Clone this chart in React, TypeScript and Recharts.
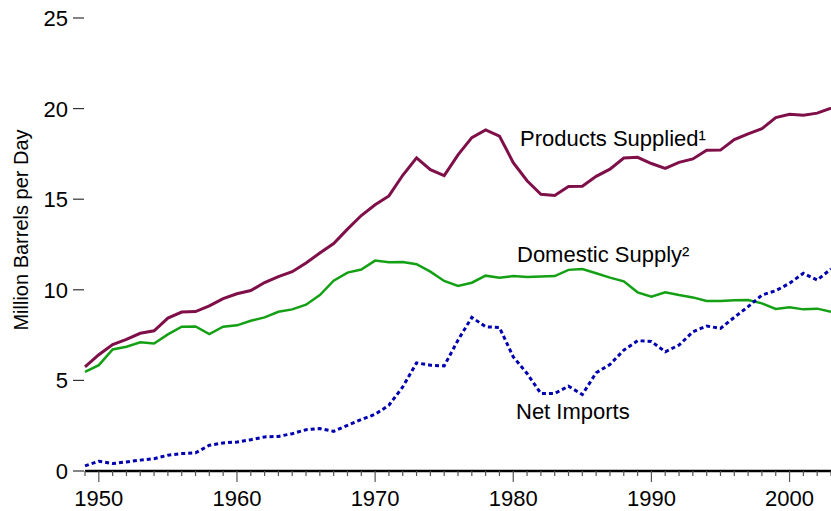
import { LineChart, Line, XAxis, YAxis } from 'recharts';

const YEARS = [
  1949, 1950, 1951, 1952, 1953, 1954, 1955, 1956, 1957, 1958,
  1959, 1960, 1961, 1962, 1963, 1964, 1965, 1966, 1967, 1968,
  1969, 1970, 1971, 1972, 1973, 1974, 1975, 1976, 1977, 1978,
  1979, 1980, 1981, 1982, 1983, 1984, 1985, 1986, 1987, 1988,
  1989, 1990, 1991, 1992, 1993, 1994, 1995, 1996, 1997, 1998,
  1999, 2000, 2001, 2002, 2003,
];

// million barrels per day
const PRODUCTS_SUPPLIED = [
  5.75, 6.42, 6.98, 7.26, 7.6, 7.74, 8.44, 8.77, 8.8, 9.11,
  9.51, 9.78, 9.96, 10.4, 10.73, 11.0, 11.48, 12.03, 12.55, 13.35,
  14.1, 14.69, 15.18, 16.32, 17.28, 16.63, 16.3, 17.45, 18.4, 18.82,
  18.48, 17.02, 16.02, 15.27, 15.21, 15.7, 15.71, 16.26, 16.66, 17.27,
  17.31, 16.97, 16.7, 17.03, 17.22, 17.7, 17.71, 18.29, 18.61, 18.89,
  19.5, 19.69, 19.64, 19.75, 20.03,
];

const DOMESTIC_SUPPLY = [
  5.47, 5.84, 6.71, 6.86, 7.1, 7.04, 7.54, 7.96, 7.98, 7.56,
  7.96, 8.04, 8.29, 8.48, 8.79, 8.92, 9.18, 9.71, 10.5, 10.95,
  11.12, 11.61, 11.52, 11.54, 11.41, 11.0, 10.49, 10.21, 10.39, 10.78,
  10.67, 10.76, 10.71, 10.73, 10.76, 11.1, 11.15, 10.91, 10.67, 10.47,
  9.86, 9.62, 9.86, 9.71, 9.58, 9.38, 9.38, 9.42, 9.44, 9.25,
  8.94, 9.03, 8.92, 8.96, 8.79,
];

const NET_IMPORTS = [
  0.28, 0.54, 0.41, 0.5, 0.6, 0.68, 0.87, 0.96, 1.0, 1.42,
  1.55, 1.6, 1.73, 1.88, 1.91, 2.06, 2.28, 2.34, 2.19, 2.52,
  2.84, 3.13, 3.63, 4.64, 5.97, 5.84, 5.8, 7.22, 8.48, 7.96,
  7.92, 6.3, 5.38, 4.28, 4.28, 4.68, 4.22, 5.42, 5.88, 6.67,
  7.19, 7.15, 6.58, 6.95, 7.68, 8.0, 7.87, 8.48, 9.07, 9.71,
  9.95, 10.36, 10.91, 10.54, 11.15,
];

const Y_TICKS = [0, 5, 10, 15, 20, 25];
const DECADES = [1950, 1960, 1970, 1980, 1990, 2000];

const FONT = '"Liberation Sans", Arial, sans-serif';

const data = YEARS.map((year, i) => ({
  year,
  products: PRODUCTS_SUPPLIED[i],
  domestic: DOMESTIC_SUPPLY[i],
  imports: NET_IMPORTS[i],
}));

function YearTick({ x, y, payload }: any) {
  const major = DECADES.includes(payload.value);
  return (
    <g>
      <line x1={x} x2={x} y1={y} y2={y + (major ? 11 : 5)} stroke="#555" strokeWidth={1.2} />
      {major && (
        <text x={x} y={y + 35} textAnchor="middle" fontSize={22} fontFamily={FONT} fill="#000">
          {payload.value}
        </text>
      )}
    </g>
  );
}

function ValueTick({ x, y, payload }: any) {
  return (
    <g>
      <line x1={x - 12} x2={x - 1} y1={y} y2={y} stroke="#333" strokeWidth={1.2} />
      <text x={x - 17} y={y + 8} textAnchor="end" fontSize={22} fontFamily={FONT} fill="#000">
        {payload.value}
      </text>
    </g>
  );
}

export default function App() {
  return (
    <div style={{ position: 'absolute', left: 0, top: 0, width: 831, height: 511, background: '#fff' }}>
      <LineChart width={831} height={511} data={data} margin={{ top: 18, right: 0, bottom: 0, left: 0 }}>
        <XAxis
          dataKey="year"
          type="number"
          domain={[1949, 2003]}
          ticks={YEARS}
          interval={0}
          height={40}
          tickSize={0}
          tickMargin={0}
          tickLine={false}
          axisLine={{ stroke: '#000', strokeWidth: 2.5 }}
          tick={<YearTick />}
        />
        <YAxis
          type="number"
          domain={[0, 25]}
          ticks={Y_TICKS}
          width={85}
          tickSize={0}
          tickMargin={0}
          tickLine={false}
          axisLine={false}
          tick={<ValueTick />}
        />
        <Line
          dataKey="products"
          stroke="#7f0f48"
          strokeWidth={3}
          dot={false}
          type="linear"
          isAnimationActive={false}
        />
        <Line
          dataKey="domestic"
          stroke="#14a014"
          strokeWidth={2.5}
          dot={false}
          type="linear"
          isAnimationActive={false}
        />
        <Line
          dataKey="imports"
          stroke="#0000b0"
          strokeWidth={3}
          strokeDasharray="4 3"
          dot={false}
          type="linear"
          isAnimationActive={false}
        />
      </LineChart>
      <svg
        width={831}
        height={511}
        style={{ position: 'absolute', left: 0, top: 0, pointerEvents: 'none' }}
        fontFamily={FONT}
      >
        <text x={28} y={230} transform="rotate(-90, 28, 230)" textAnchor="middle" fontSize={20} fill="#000">
          Million Barrels per Day
        </text>
        <text x={520} y={146} fontSize={22} fill="#000">Products Supplied¹</text>
        <text x={517} y={262} fontSize={22} fill="#000">Domestic Supply²</text>
        <text x={516} y={419} fontSize={22} fill="#000">Net Imports</text>
      </svg>
    </div>
  );
}
